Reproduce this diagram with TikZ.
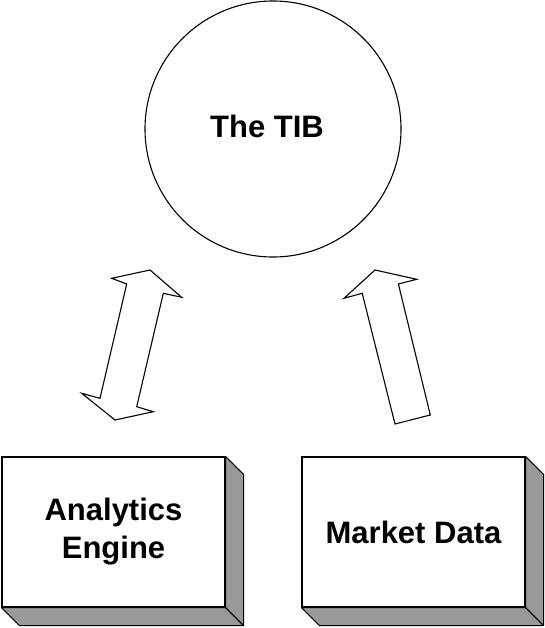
\documentclass[tikz,border=0pt]{standalone}
\usepackage{fontspec}
\setmainfont{Liberation Sans}
\usepackage{tikz}
\definecolor{shade}{RGB}{153,153,153}

\begin{document}
\begin{tikzpicture}[x=1pt,y=-1pt,line width=1.1pt]
            \tikzstyle{hub}=[circle,draw=black,minimum size=256pt,inner sep=0pt]
            \tikzstyle{caption}=[font=\fontsize{31}{38}\selectfont\bfseries,inner sep=0pt]
            \tikzstyle{block}=[rectangle,draw=black,fill=white,minimum width=223pt,minimum height=150pt,align=center,caption]
            \tikzstyle{side}=[draw=black,fill=shade,line join=round]
            \tikzstyle{fat}=[draw=black,fill=white,line join=miter]
            \useasboundingbox (0,0) rectangle (545,628);

            \node[hub] (tib) at (273,129) {};
            \node[caption,anchor=base] (tib-text) at (267,138) {The TIB};

            \foreach \name/\x/\txt in {ae/113.5/{Analytics\\Engine}, md/413.5/{Market Data}}
            {
                \node[block] (\name) at (\x,532) {\txt};
                \draw[side] (\name.north east) -- ++(18,18) |- ([shift={(18,18)}]\name.south west)
                    -- (\name.south west) -- (\name.south east) -- cycle;
                \draw (\name.south east) -- ++(18,18);
            }

            \draw[fat] (150,270) -- (181.7,297.3) -- (163.3,293.3) -- (136.7,406.7) -- (153.3,411.7)
                -- (115,420) -- (81.7,393.3) -- (100,398.3) -- (126.7,284) -- (111.7,278.3) -- cycle;
            \draw[fat] (375,270) -- (416.7,279.3) -- (398.4,284) -- (430.3,415) -- (395,424)
                -- (362.2,293.3) -- (344,298.3) -- cycle;
        \end{tikzpicture}
\end{document}
